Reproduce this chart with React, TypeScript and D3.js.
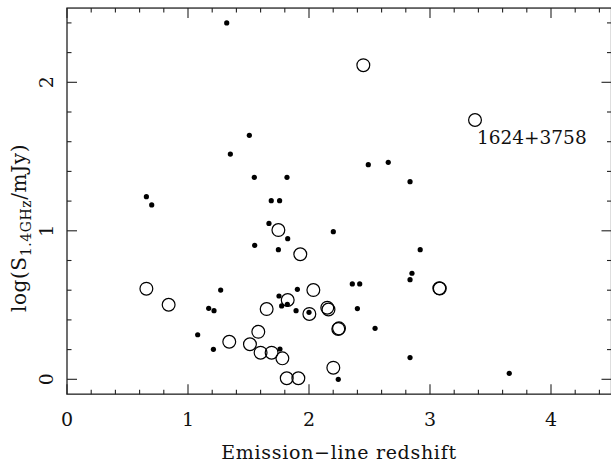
import React from "react";
import * as d3 from "d3";

// Filled dots: [redshift, log S]
const dotZ = [1.32, 1.507, 1.35, 1.548, 1.818, 0.656, 0.70, 2.49, 2.655, 2.835, 1.688, 1.757, 1.669, 1.824, 1.551, 1.747, 2.201, 1.27, 1.171, 1.215, 1.752, 1.774, 1.821, 1.904, 1.893, 2.0, 1.08, 1.21, 1.76, 2.242, 2.919, 2.851, 2.835, 2.358, 2.419, 2.40, 2.546, 2.835, 3.655];
const dotS = [2.40, 1.643, 1.517, 1.36, 1.36, 1.23, 1.174, 1.445, 1.461, 1.331, 1.203, 1.203, 1.05, 0.947, 0.902, 0.873, 0.994, 0.601, 0.478, 0.462, 0.561, 0.494, 0.505, 0.606, 0.462, 0.451, 0.30, 0.202, 0.204, 0.0, 0.873, 0.714, 0.671, 0.642, 0.642, 0.476, 0.343, 0.146, 0.04];

// Open circles
const circZ = [2.449, 3.372, 1.747, 1.928, 0.656, 0.84, 1.824, 1.65, 2.036, 2.003, 2.151, 2.161, 2.242, 2.248, 1.581, 1.341, 1.512, 1.6, 1.691, 1.78, 1.816, 1.912, 2.201, 3.077, 3.081];
const circS = [2.115, 1.746, 1.005, 0.842, 0.61, 0.502, 0.534, 0.473, 0.601, 0.44, 0.482, 0.47, 0.339, 0.343, 0.32, 0.253, 0.236, 0.179, 0.179, 0.141, 0.007, 0.007, 0.078, 0.613, 0.611];

const xTickLabels = [0, 1, 2, 3, 4];
const yTickLabels = [0, 1, 2];
const annotation = { z: 3.372, s: 1.746, text: "1624+3758" };

const W = 611, H = 464;
const FONT = "'DejaVu Serif', serif";

export default function App() {
  const x = d3.scaleLinear().domain([0, 4.5]).range([67, 611.5]);
  const y = d3.scaleLinear().domain([-0.1, 2.5]).range([394.15, 8.05]);
  const [x0, x1] = x.range();
  const [yb, yt] = y.range();

  const xMinor = d3.range(0, 4.5001, 0.2).map((v) => +v.toFixed(2));
  const yMinor = d3.range(0, 2.5001, 0.2).map((v) => +v.toFixed(2));
  const isInt = (v: number) => Math.abs(v - Math.round(v)) < 1e-6;

  const stroke = "#222";
  return (
    <svg width={W} height={H} style={{ position: "absolute", left: 0, top: 0, background: "#fff" }}>
      <rect x={0} y={0} width={W} height={H} fill="#fff" />
      {/* frame */}
      <rect x={x0} y={yt} width={x1 - x0} height={yb - yt} fill="none" stroke={stroke} strokeWidth={1.3} />
      {/* x ticks */}
      {xMinor.map((v, i) => {
        const L = isInt(v) ? 10 : 4.5;
        const px = x(v);
        return (
          <g key={"xt" + i}>
            <line x1={px} x2={px} y1={yb} y2={yb - L} stroke={stroke} strokeWidth={1.1} />
            <line x1={px} x2={px} y1={yt} y2={yt + L} stroke={stroke} strokeWidth={1.1} />
          </g>
        );
      })}
      {/* y ticks */}
      {yMinor.map((v, i) => {
        const L = isInt(v) ? 10 : 4.5;
        const py = y(v);
        return (
          <g key={"yt" + i}>
            <line x1={x0} x2={x0 + L} y1={py} y2={py} stroke={stroke} strokeWidth={1.1} />
            <line x1={x1} x2={x1 - L} y1={py} y2={py} stroke={stroke} strokeWidth={1.1} />
          </g>
        );
      })}
      {/* x tick labels */}
      {xTickLabels.map((v) => (
        <text key={"xl" + v} x={x(v)} y={425.5} textAnchor="middle" fontFamily={FONT} fontSize={19} fill="#111">
          {v}
        </text>
      ))}
      {/* y tick labels (rotated) */}
      {yTickLabels.map((v) => (
        <text key={"yl" + v} transform={`translate(53,${y(v)}) rotate(-90)`} textAnchor="middle" fontFamily={FONT} fontSize={19} fill="#111">
          {v}
        </text>
      ))}
      {/* axis titles */}
      <text x={339} y={459} textAnchor="middle" fontFamily={FONT} fontSize={19} letterSpacing={0.7} fill="#111">
        Emission−line redshift
      </text>
      <text transform={`translate(26,228) rotate(-90)`} textAnchor="middle" fontFamily={FONT} fontSize={20} letterSpacing={0.6} fill="#111">
        log(S
        <tspan fontSize={14} dy={5}>1.4GHz</tspan>
        <tspan dy={-5}>/mJy)</tspan>
      </text>
      {/* open circles */}
      {circZ.map((z, i) => (
        <circle key={"c" + i} cx={x(z)} cy={y(circS[i])} r={6.4} fill="none" stroke="#000" strokeWidth={1.2} />
      ))}
      {/* filled dots */}
      {dotZ.map((z, i) => (
        <circle key={"d" + i} cx={x(z)} cy={y(dotS[i])} r={2.6} fill="#000" />
      ))}
      {/* annotation */}
      <text x={x(annotation.z) + 2} y={y(annotation.s) + 24} fontFamily={FONT} fontSize={18.5} fill="#111">
        {annotation.text}
      </text>
    </svg>
  );
}
